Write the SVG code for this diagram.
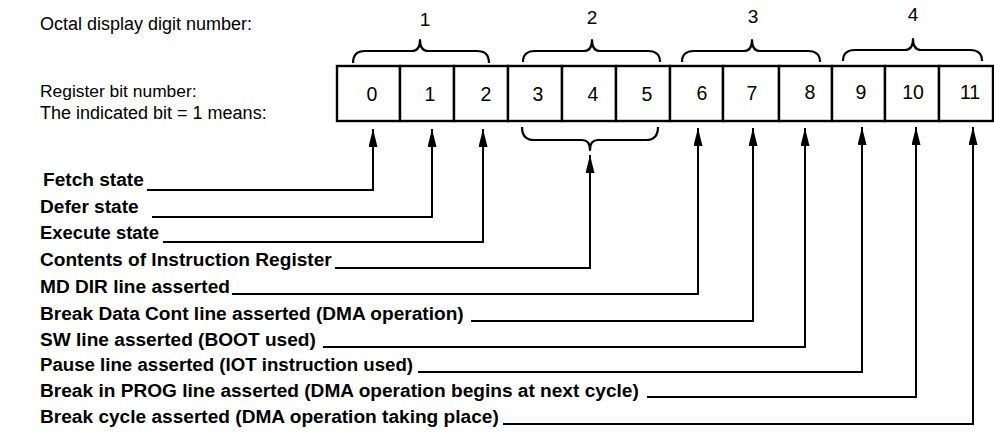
<svg xmlns="http://www.w3.org/2000/svg" width="994" height="434" viewBox="0 0 994 434">
<style>
  text { font-family: "Liberation Sans", Arial, Helvetica, sans-serif; fill: #000; }
  .hdr { font-size: 18px; }
  .hdr2 { font-size: 17.4px; }
  .oct { font-size: 19px; text-anchor: middle; }
  .dig { font-size: 19.5px; text-anchor: middle; }
  .lbl { font-size: 19.1px; font-weight: bold; }
  .cell { fill: #fff; stroke: #000; stroke-width: 2.4; }
  .brace { fill: none; stroke: #000; stroke-width: 2.2; stroke-linejoin: round; }
  .conn { fill: none; stroke: #000; stroke-width: 2; }
</style>
<defs>
  <marker id="head" viewBox="0 0 20 10" refX="20" refY="5" markerWidth="20" markerHeight="9" markerUnits="userSpaceOnUse" orient="auto">
    <path d="M0,0 L20,5 L0,10 Z" fill="#000"/>
  </marker>
</defs>
<rect width="994" height="434" fill="#fff"/>

<g id="header-labels">
  <text class="hdr" x="40" y="30">Octal display digit number:</text>
  <text class="hdr2" x="40" y="97">Register bit number:</text>
  <text class="hdr" x="40" y="119">The indicated bit = 1 means:</text>
</g>

<g id="octal-digit-1">
  <path class="brace" d="M353,63 Q353,51 365,51 L412,51 Q420,51 420,40 Q420,51 428,51 L477,51 Q489,51 489,63"/>
  <text class="oct" x="425" y="26">1</text>
</g>
<g id="octal-digit-2">
  <path class="brace" d="M523,62 Q523,51 535,51 L584,51 Q592,51 592,40 Q592,51 600,51 L648,51 Q660,51 660,62"/>
  <text class="oct" x="592" y="24">2</text>
</g>
<g id="octal-digit-3">
  <path class="brace" d="M682,62 Q682,51 694,51 L744,51 Q752,51 752,40 Q752,51 760,51 L808,51 Q820,51 820,62"/>
  <text class="oct" x="753" y="23">3</text>
</g>
<g id="octal-digit-4">
  <path class="brace" d="M843,61 Q843,50 855,50 L905,50 Q913,50 913,39 Q913,50 921,50 L970,50 Q982,50 982,61"/>
  <text class="oct" x="913" y="21">4</text>
</g>

<g id="register">
  <g id="bit-0"><rect class="cell" x="337" y="66" width="63" height="55"/><text class="dig" x="372" y="101">0</text></g>
  <g id="bit-1"><rect class="cell" x="400" y="66" width="54" height="55"/><text class="dig" x="430" y="101">1</text></g>
  <g id="bit-2"><rect class="cell" x="454" y="66" width="54" height="55"/><text class="dig" x="486" y="101">2</text></g>
  <g id="bit-3"><rect class="cell" x="508" y="66" width="54" height="55"/><text class="dig" x="538" y="101">3</text></g>
  <g id="bit-4"><rect class="cell" x="562" y="66" width="54" height="55"/><text class="dig" x="593" y="101">4</text></g>
  <g id="bit-5"><rect class="cell" x="616" y="66" width="54" height="55"/><text class="dig" x="647" y="101">5</text></g>
  <g id="bit-6"><rect class="cell" x="670" y="66" width="53" height="55"/><text class="dig" x="702" y="100">6</text></g>
  <g id="bit-7"><rect class="cell" x="723" y="66" width="56" height="55"/><text class="dig" x="752" y="100">7</text></g>
  <g id="bit-8"><rect class="cell" x="779" y="66" width="53" height="55"/><text class="dig" x="810" y="99">8</text></g>
  <g id="bit-9"><rect class="cell" x="832" y="66" width="53" height="55"/><text class="dig" x="861" y="99">9</text></g>
  <g id="bit-10"><rect class="cell" x="885" y="66" width="54" height="55"/><text class="dig" x="913" y="99">10</text></g>
  <g id="bit-11"><rect class="cell" x="939" y="66" width="54" height="55"/><text class="dig" x="970" y="99">11</text></g>
</g>

<g id="ir-brace">
  <path class="brace" d="M522,127 Q522,140 534,140 L582,140 Q590,140 590,150 Q590,140 598,140 L646,140 Q658,140 658,127"/>
</g>

<g id="meanings">
  <text id="lbl-fetch" class="lbl" x="43" y="186">Fetch state</text>
  <text id="lbl-defer" class="lbl" x="40" y="213">Defer state</text>
  <text id="lbl-execute" class="lbl" x="40" y="239" textLength="119" lengthAdjust="spacingAndGlyphs">Execute state</text>
  <text id="lbl-ir" class="lbl" x="40" y="266">Contents of Instruction Register</text>
  <text id="lbl-mddir" class="lbl" x="40" y="293">MD DIR line asserted</text>
  <text id="lbl-bdc" class="lbl" x="40" y="320">Break Data Cont line asserted (DMA operation)</text>
  <text id="lbl-sw" class="lbl" x="40" y="346">SW line asserted (BOOT used)</text>
  <text id="lbl-pause" class="lbl" x="40" y="371" textLength="373" lengthAdjust="spacingAndGlyphs">Pause line asserted (IOT instruction used)</text>
  <text id="lbl-bip" class="lbl" x="40" y="397">Break in PROG line asserted (DMA operation begins at next cycle)</text>
  <text id="lbl-bc" class="lbl" x="40" y="423">Break cycle asserted (DMA operation taking place)</text>
</g>

<g id="connectors">
  <path class="conn" marker-end="url(#head)" d="M147,190 H373 V129"/>
  <path class="conn" marker-end="url(#head)" d="M152,217 H432 V129"/>
  <path class="conn" marker-end="url(#head)" d="M163,242 H483 V129"/>
  <path class="conn" marker-end="url(#head)" d="M335,268 H590 V155"/>
  <path class="conn" marker-end="url(#head)" d="M232,294 H698 V128"/>
  <path class="conn" marker-end="url(#head)" d="M471,321 H753 V128"/>
  <path class="conn" marker-end="url(#head)" d="M323,347 H805 V128"/>
  <path class="conn" marker-end="url(#head)" d="M418,372 H862 V127"/>
  <path class="conn" marker-end="url(#head)" d="M647,397 H916 V127"/>
  <path class="conn" marker-end="url(#head)" d="M503,424 H973 V127"/>
</g>
</svg>
